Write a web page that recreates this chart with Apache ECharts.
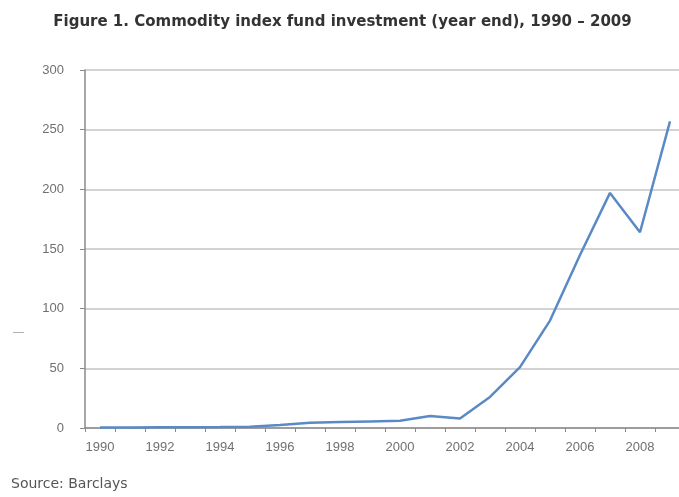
<!DOCTYPE html>
<html>
<head>
<meta charset="utf-8">
<script src="https://cdn.jsdelivr.net/npm/echarts@6/dist/echarts.min.js"></script>
<style>html,body{margin:0;padding:0;background:#fff;overflow:hidden;}#c{width:685px;height:497px;}</style>
</head>
<body>
<div id="c"></div>
<script>
var years = ['1990','1991','1992','1993','1994','1995','1996','1997','1998','1999','2000','2001','2002','2003','2004','2005','2006','2007','2008','2009'];
var investment = [0.5, 0.5, 0.6, 0.7, 0.8, 1, 2.5, 4.5, 5, 5.5, 6, 10, 8, 26, 51, 90, 145, 197, 164, 257];
var yTicks = [0, 50, 100, 150, 200, 250, 300];

var AX_FONT = "'Liberation Sans', Arial, sans-serif";
var chart = echarts.init(document.getElementById('c'));
chart.setOption({
  animation: false,
  backgroundColor: '#ffffff',
  title: {
    text: 'Figure 1. Commodity index fund investment (year end), 1990 \u2013 2009',
    left: 'center',
    top: 10,
    textStyle: {fontFamily: "'DejaVu Sans', sans-serif", fontWeight: 'bold', fontSize: 15, color: '#333'}
  },
  graphic: [
    {type: 'text', left: 11, top: 477, style: {text: 'Source: Barclays', fontFamily: "'DejaVu Sans', sans-serif", fontSize: 14, fill: '#555'}},
    {type: 'text', left: 13, top: 326, style: {text: '\u2014', fontFamily: AX_FONT, fontSize: 11, fill: '#999'}}
  ],
  grid: {left: 85, top: 70, right: 0, bottom: 69},
  xAxis: {
    type: 'category',
    data: years,
    boundaryGap: true,
    axisLine: {lineStyle: {color: '#8a8a8a', width: 1.5}},
    axisTick: {show: true, interval: 0, length: 4, lineStyle: {color: '#8a8a8a'}},
    axisLabel: {interval: 1, margin: 13, fontFamily: AX_FONT, fontSize: 13, color: '#707070'},
    splitLine: {show: false}
  },
  yAxis: {
    type: 'value',
    min: yTicks[0],
    max: yTicks[yTicks.length - 1],
    interval: 50,
    axisLine: {show: true, lineStyle: {color: '#8a8a8a', width: 1.5}},
    axisTick: {show: true, length: 5, lineStyle: {color: '#8a8a8a'}},
    axisLabel: {margin: 21, fontFamily: AX_FONT, fontSize: 13, color: '#707070'},
    splitLine: {show: true, lineStyle: {color: '#c4c4c4', width: 1.5}}
  },
  series: [{
    type: 'line',
    data: investment,
    symbol: 'none',
    lineStyle: {color: '#5a8ac6', width: 2.5},
    itemStyle: {color: '#5a8ac6'}
  }]
});
</script>
</body>
</html>
